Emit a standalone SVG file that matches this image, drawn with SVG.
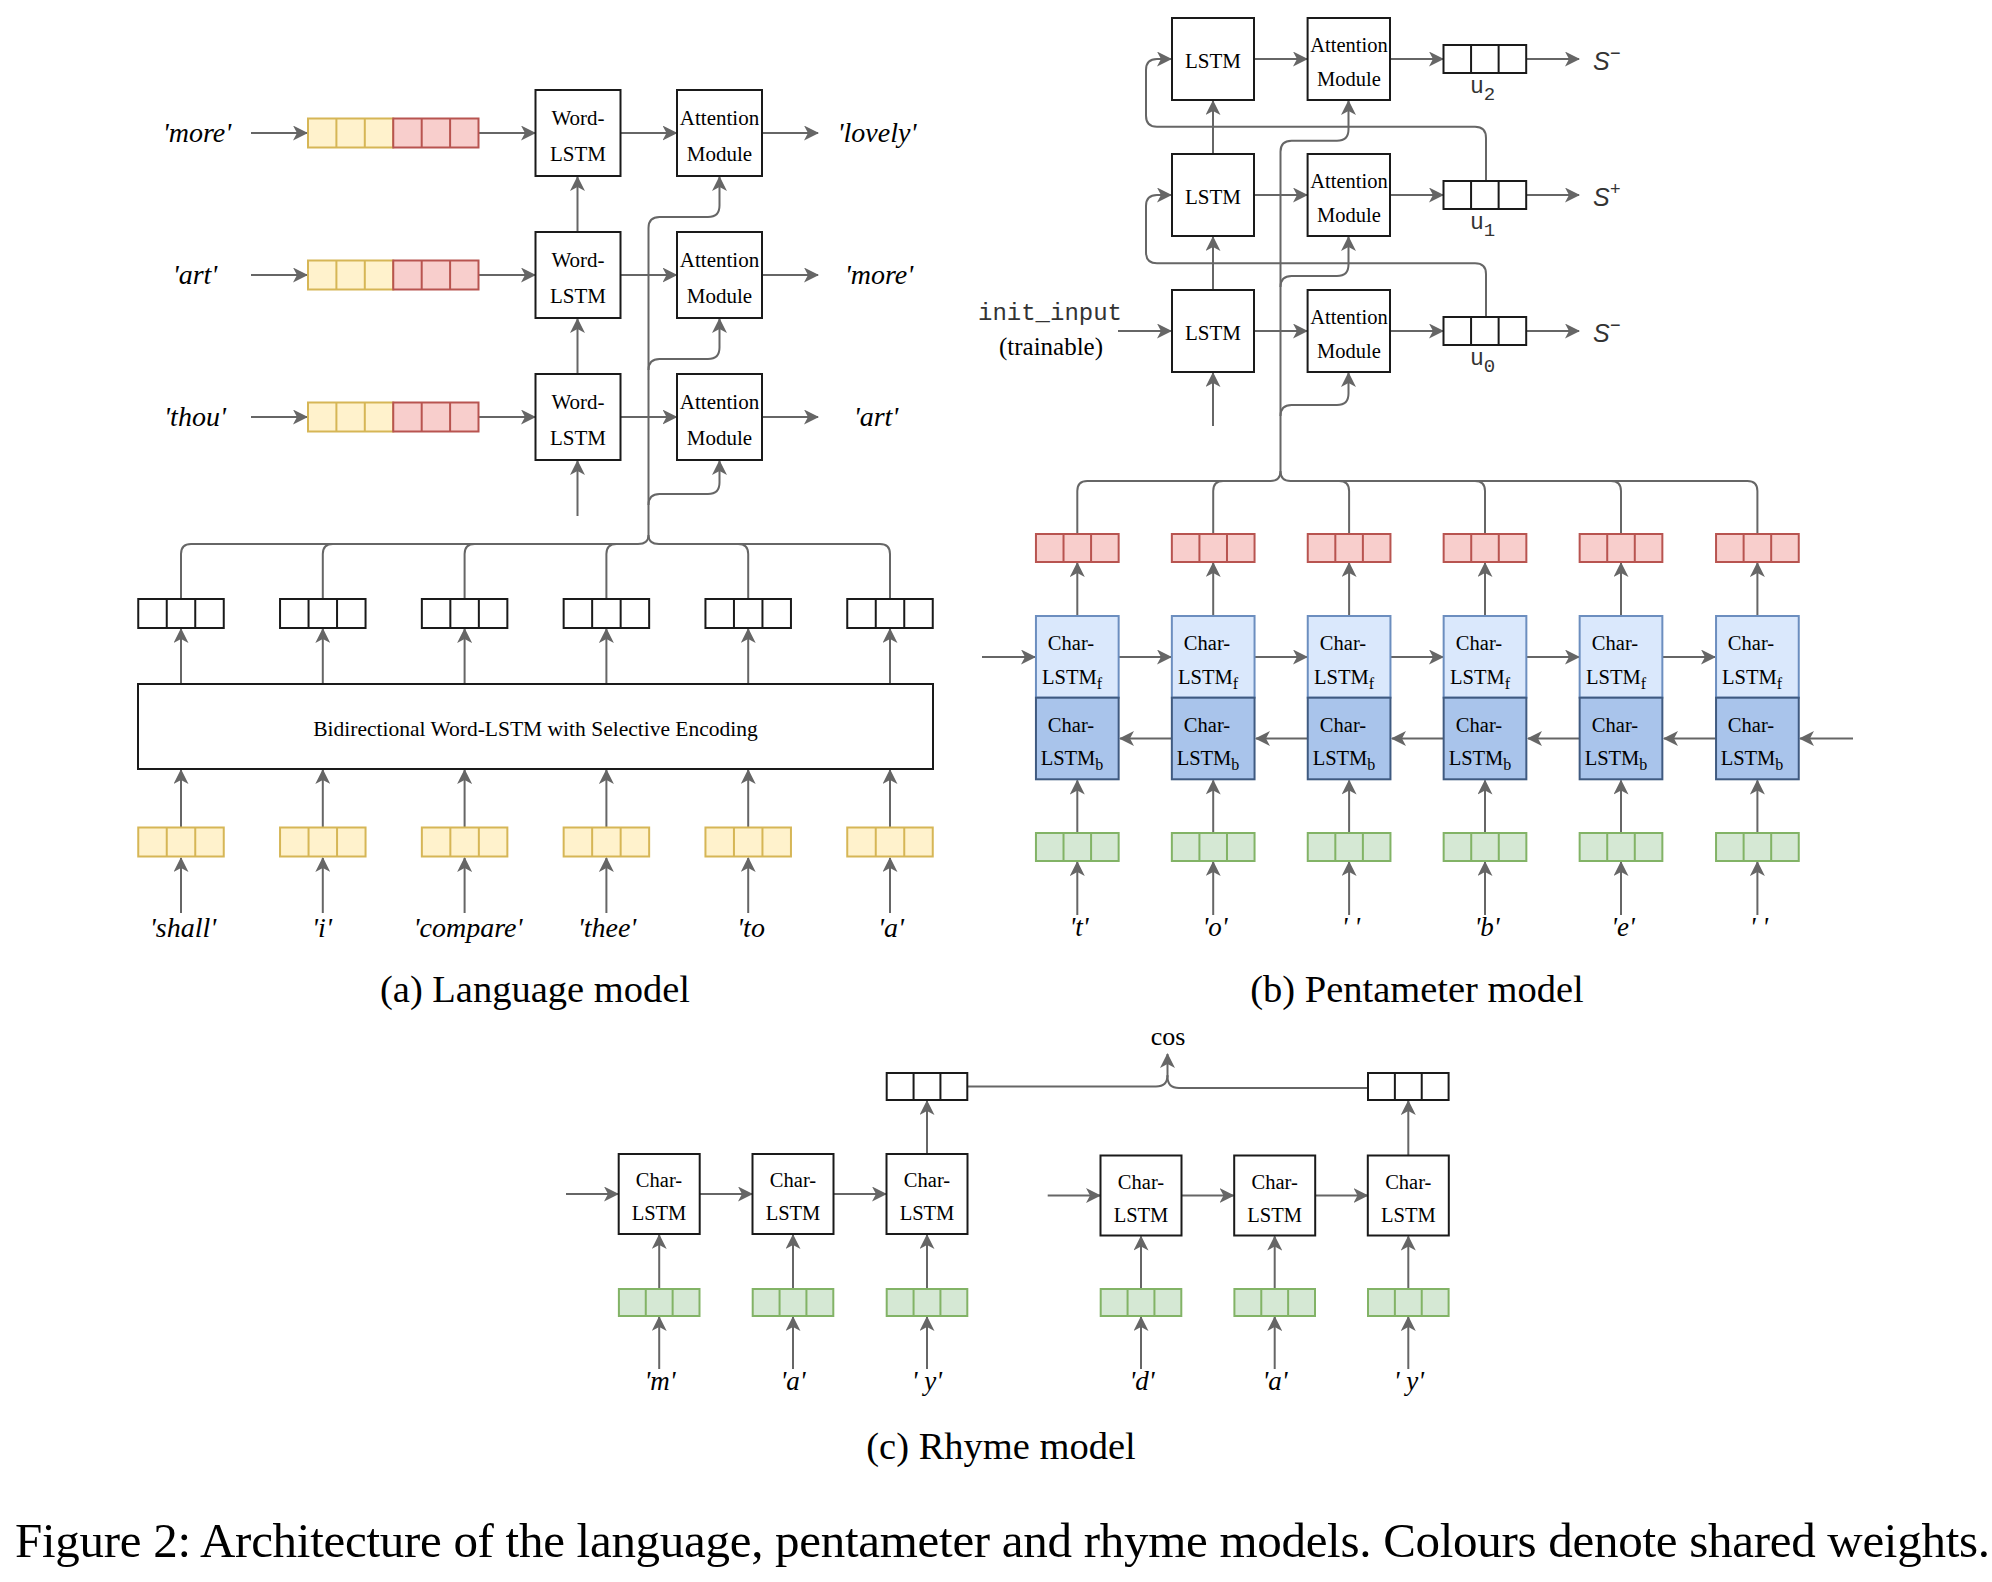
<svg xmlns="http://www.w3.org/2000/svg" xmlns:xlink="http://www.w3.org/1999/xlink" width="1992" height="1582" viewBox="0 0 1992 1582">
<defs>
<style>
.ln{stroke:#666;stroke-width:2;fill:none}
.ar{stroke:#666;stroke-width:2;fill:none;marker-end:url(#ah)}
.bx{fill:#fff;stroke:#1a1a1a;stroke-width:2}
.cl{stroke-width:2;fill:none}
.yel{fill:#fff2cc;stroke:#d6b656;stroke-width:2}
.red{fill:#f8cecc;stroke:#b85450;stroke-width:2}
.grn{fill:#d5e8d4;stroke:#82b366;stroke-width:2}
.blk{fill:#fff;stroke:#1a1a1a;stroke-width:2}
.bf{fill:#dae8fc;stroke:#6c8ebf;stroke-width:2}
.bb{fill:#a9c4eb;stroke:#3f5a80;stroke-width:2}
.t{font-family:"Liberation Serif","Times New Roman",serif;fill:#000;text-anchor:middle}
.s21{font-size:21px}
.s20{font-size:20.5px}
.sub{font-size:16px}
.lab{font-style:italic;font-size:28px}
.cap{font-size:38.5px}
.mono{font-family:"Liberation Mono","Courier New",monospace;fill:#333}
.sv{font-family:"Liberation Sans",Arial,sans-serif;font-style:italic;fill:#333}
</style>
<marker id="ah" markerUnits="userSpaceOnUse" markerWidth="15" markerHeight="15" viewBox="0 0 15 15" refX="14" refY="7.5" orient="auto">
<path d="M0,0 L15,7.5 L0,15 L4,7.5 Z" fill="#666"/>
</marker>
<g id="vA"><rect x="0" y="0" width="85.5" height="29"/><path d="M28.5,0V29M57,0V29"/></g>
<g id="vB"><rect x="0" y="0" width="82.7" height="28"/><path d="M27.57,0V28M55.13,0V28"/></g>
<g id="vC"><rect x="0" y="0" width="80.6" height="27"/><path d="M26.87,0V27M53.73,0V27"/></g>
</defs>
<rect width="1992" height="1582" fill="#fff"/>

<!-- ===================== connectors ===================== -->
<g id="connectors">
<!-- (a) rows -->
<path class="ar" d="M251,133H307"/><path class="ar" d="M251,275H307"/><path class="ar" d="M251,417H307"/>
<path class="ar" d="M478.5,133H535"/><path class="ar" d="M478.5,275H535"/><path class="ar" d="M478.5,417H535"/>
<path class="ar" d="M620.5,133H676.5"/><path class="ar" d="M620.5,275H676.5"/><path class="ar" d="M620.5,417H676.5"/>
<path class="ar" d="M762,133H818"/><path class="ar" d="M762,275H818"/><path class="ar" d="M762,417H818"/>
<path class="ar" d="M577.5,232V177"/><path class="ar" d="M577.5,374V319"/><path class="ar" d="M577.5,516V461"/>
<path class="ar" d="M648.5,535V228Q648.5,217 659.5,217H708Q719.5,217 719.5,205.5V177"/>
<path class="ar" d="M648.5,370Q648.5,359 659.5,359H708Q719.5,359 719.5,347.5V319"/>
<path class="ar" d="M648.5,505Q648.5,494 659.5,494H708Q719.5,494 719.5,482.5V461"/>
<!-- (a) bus -->
<path class="ln" d="M181,599V554Q181,544 191,544H638Q648.5,544 648.5,535"/>
<path class="ln" d="M890,599V554Q890,544 880,544H659Q648.5,544 648.5,535"/>
<path class="ln" d="M332.8,544Q322.8,544 322.8,554V599"/>
<path class="ln" d="M474.6,544Q464.6,544 464.6,554V599"/>
<path class="ln" d="M616.4,544Q606.4,544 606.4,554V599"/>
<path class="ln" d="M738.2,544Q748.2,544 748.2,554V599"/>
<!-- (a) bottom arrows -->
<path class="ar" d="M181,684V629"/><path class="ar" d="M322.8,684V629"/><path class="ar" d="M464.6,684V629"/><path class="ar" d="M606.4,684V629"/><path class="ar" d="M748.2,684V629"/><path class="ar" d="M890,684V629"/>
<path class="ar" d="M181,827V770"/><path class="ar" d="M322.8,827V770"/><path class="ar" d="M464.6,827V770"/><path class="ar" d="M606.4,827V770"/><path class="ar" d="M748.2,827V770"/><path class="ar" d="M890,827V770"/>
<path class="ar" d="M181,913V858"/><path class="ar" d="M322.8,913V858"/><path class="ar" d="M464.6,913V858"/><path class="ar" d="M606.4,913V858"/><path class="ar" d="M748.2,913V858"/><path class="ar" d="M890,913V858"/>

<!-- (b) top -->
<path class="ar" d="M1254,59H1307"/><path class="ar" d="M1254,195H1307"/><path class="ar" d="M1254,331H1307"/>
<path class="ar" d="M1390,59H1443"/><path class="ar" d="M1390,195H1443"/><path class="ar" d="M1390,331H1443"/>
<path class="ar" d="M1526,59H1579"/><path class="ar" d="M1526,195H1579"/><path class="ar" d="M1526,331H1579"/>
<path class="ar" d="M1118,331H1171"/>
<path class="ar" d="M1213,154V101"/><path class="ar" d="M1213,290V237"/><path class="ar" d="M1213,426V373"/>
<path class="ar" d="M1486,181V138Q1486,126.7 1475,126.7H1157Q1146,126.7 1146,115.7V70Q1146,59 1157,59H1171"/>
<path class="ar" d="M1486,317V274Q1486,263.3 1475,263.3H1157Q1146,263.3 1146,252.3V206Q1146,195 1157,195H1171"/>
<path class="ar" d="M1280.5,471V151.7Q1280.5,140.7 1291.5,140.7H1337Q1348.5,140.7 1348.5,129.2V101"/>
<path class="ar" d="M1280.5,287Q1280.5,276 1291.5,276H1337Q1348.5,276 1348.5,264.5V237"/>
<path class="ar" d="M1280.5,416Q1280.5,405 1291.5,405H1337Q1348.5,405 1348.5,393.5V373"/>
<!-- (b) bus -->
<path class="ln" d="M1077.3,534V491Q1077.3,481 1087.3,481H1270.5Q1280.5,481 1280.5,471"/>
<path class="ln" d="M1757.4,534V491Q1757.4,481 1747.4,481H1290.5Q1280.5,481 1280.5,471"/>
<path class="ln" d="M1223.2,481Q1213.2,481 1213.2,491V534"/>
<path class="ln" d="M1339.1,481Q1349.1,481 1349.1,491V534"/>
<path class="ln" d="M1475,481Q1485,481 1485,491V534"/>
<path class="ln" d="M1611,481Q1621,481 1621,491V534"/>
<!-- (b) char lstm -->
<path class="ar" d="M1077.3,616V563"/><path class="ar" d="M1213.2,616V563"/><path class="ar" d="M1349.1,616V563"/><path class="ar" d="M1485,616V563"/><path class="ar" d="M1621,616V563"/><path class="ar" d="M1757.4,616V563"/>
<path class="ar" d="M982,657H1035"/><path class="ar" d="M1118.7,657H1171"/><path class="ar" d="M1254.6,657H1307"/><path class="ar" d="M1390.5,657H1443"/><path class="ar" d="M1526.4,657H1579"/><path class="ar" d="M1662.4,657H1715"/>
<path class="ar" d="M1853,738.5H1800"/><path class="ar" d="M1716,738.5H1664"/><path class="ar" d="M1579.6,738.5H1528"/><path class="ar" d="M1443.6,738.5H1392"/><path class="ar" d="M1307.7,738.5H1256"/><path class="ar" d="M1171.8,738.5H1120"/>
<path class="ar" d="M1077.3,833V780.5"/><path class="ar" d="M1213.2,833V780.5"/><path class="ar" d="M1349.1,833V780.5"/><path class="ar" d="M1485,833V780.5"/><path class="ar" d="M1621,833V780.5"/><path class="ar" d="M1757.4,833V780.5"/>
<path class="ar" d="M1077.3,915V862"/><path class="ar" d="M1213.2,915V862"/><path class="ar" d="M1349.1,915V862"/><path class="ar" d="M1485,915V862"/><path class="ar" d="M1621,915V862"/><path class="ar" d="M1757.4,915V862"/>

<!-- (c) -->
<path class="ar" d="M566,1194H618"/><path class="ar" d="M699.7,1194H752"/><path class="ar" d="M833.3,1194H886"/>
<path class="ar" d="M1047.7,1195.5H1100"/><path class="ar" d="M1181.3,1195.5H1233.5"/><path class="ar" d="M1315,1195.5H1367.5"/>
<path class="ar" d="M927,1154V1101"/><path class="ar" d="M1408.3,1155.5V1101"/>
<path class="ln" d="M967.3,1086.5H1156Q1167.5,1086.5 1167.5,1075"/>
<path class="ln" d="M1368,1088H1179Q1167.5,1088 1167.5,1076.5"/>
<path class="ar" d="M1167.5,1077V1054"/>
<path class="ar" d="M659.2,1289V1235"/><path class="ar" d="M793,1289V1235"/><path class="ar" d="M927,1289V1235"/>
<path class="ar" d="M1141,1289V1236.5"/><path class="ar" d="M1274.7,1289V1236.5"/><path class="ar" d="M1408.3,1289V1236.5"/>
<path class="ar" d="M659.2,1369V1317"/><path class="ar" d="M793,1369V1317"/><path class="ar" d="M927,1369V1317"/>
<path class="ar" d="M1141,1369V1317"/><path class="ar" d="M1274.7,1369V1317"/><path class="ar" d="M1408.3,1369V1317"/>
</g>

<!-- ===================== (a) Language model ===================== -->
<g id="a-row1">
<text class="t lab" x="197" y="142">'more'</text>
<g id="a-emb1"><rect class="yel" x="308" y="118.5" width="85.25" height="29"/><path class="cl" stroke="#d6b656" d="M336.4,118.5V147.5M364.8,118.5V147.5"/><rect class="red" x="393.25" y="118.5" width="85.25" height="29"/><path class="cl" stroke="#b85450" d="M421.7,118.5V147.5M450.1,118.5V147.5"/></g>
<g id="a-wlstm1"><rect class="bx" x="535.5" y="90" width="85" height="86"/><text class="t s21" x="578" y="125">Word-</text><text class="t s21" x="578" y="161">LSTM</text></g>
<g id="a-att1"><rect class="bx" x="677" y="90" width="85" height="86"/><text class="t s21" x="719.5" y="125">Attention</text><text class="t s21" x="719.5" y="161">Module</text></g>
<text class="t lab" x="877" y="142">'lovely'</text>
</g>
<g id="a-row2">
<text class="t lab" x="195" y="284">'art'</text>
<g id="a-emb2"><rect class="yel" x="308" y="260.5" width="85.25" height="29"/><path class="cl" stroke="#d6b656" d="M336.4,260.5V289.5M364.8,260.5V289.5"/><rect class="red" x="393.25" y="260.5" width="85.25" height="29"/><path class="cl" stroke="#b85450" d="M421.7,260.5V289.5M450.1,260.5V289.5"/></g>
<g id="a-wlstm2"><rect class="bx" x="535.5" y="232" width="85" height="86"/><text class="t s21" x="578" y="267">Word-</text><text class="t s21" x="578" y="303">LSTM</text></g>
<g id="a-att2"><rect class="bx" x="677" y="232" width="85" height="86"/><text class="t s21" x="719.5" y="267">Attention</text><text class="t s21" x="719.5" y="303">Module</text></g>
<text class="t lab" x="879" y="284">'more'</text>
</g>
<g id="a-row3">
<text class="t lab" x="195" y="426">'thou'</text>
<g id="a-emb3"><rect class="yel" x="308" y="402.5" width="85.25" height="29"/><path class="cl" stroke="#d6b656" d="M336.4,402.5V431.5M364.8,402.5V431.5"/><rect class="red" x="393.25" y="402.5" width="85.25" height="29"/><path class="cl" stroke="#b85450" d="M421.7,402.5V431.5M450.1,402.5V431.5"/></g>
<g id="a-wlstm3"><rect class="bx" x="535.5" y="374" width="85" height="86"/><text class="t s21" x="578" y="409">Word-</text><text class="t s21" x="578" y="445">LSTM</text></g>
<g id="a-att3"><rect class="bx" x="677" y="374" width="85" height="86"/><text class="t s21" x="719.5" y="409">Attention</text><text class="t s21" x="719.5" y="445">Module</text></g>
<text class="t lab" x="876" y="426">'art'</text>
</g>
<g id="a-hidden">
<use xlink:href="#vA" href="#vA" class="blk" x="138.25" y="599"/>
<use xlink:href="#vA" href="#vA" class="blk" x="280.05" y="599"/>
<use xlink:href="#vA" href="#vA" class="blk" x="421.85" y="599"/>
<use xlink:href="#vA" href="#vA" class="blk" x="563.65" y="599"/>
<use xlink:href="#vA" href="#vA" class="blk" x="705.45" y="599"/>
<use xlink:href="#vA" href="#vA" class="blk" x="847.25" y="599"/>
</g>
<g id="a-bilstm"><rect class="bx" x="138" y="684" width="795" height="85"/><text class="t" style="font-size:21.5px" x="535.5" y="736">Bidirectional Word-LSTM with Selective Encoding</text></g>
<g id="a-wordemb">
<use xlink:href="#vA" href="#vA" class="yel" x="138.25" y="827.5"/>
<use xlink:href="#vA" href="#vA" class="yel" x="280.05" y="827.5"/>
<use xlink:href="#vA" href="#vA" class="yel" x="421.85" y="827.5"/>
<use xlink:href="#vA" href="#vA" class="yel" x="563.65" y="827.5"/>
<use xlink:href="#vA" href="#vA" class="yel" x="705.45" y="827.5"/>
<use xlink:href="#vA" href="#vA" class="yel" x="847.25" y="827.5"/>
</g>
<g id="a-words">
<text class="t lab" x="183" y="937">'shall'</text>
<text class="t lab" x="322" y="937">'i'</text>
<text class="t lab" x="468" y="937">'compare'</text>
<text class="t lab" x="607" y="937">'thee'</text>
<text class="t lab" x="751" y="937">'to</text>
<text class="t lab" x="891" y="937">'a'</text>
</g>
<text id="cap-a" class="t cap" x="535" y="1002">(a) Language model</text>

<!-- ===================== (b) Pentameter model ===================== -->
<g id="b-init"><text class="mono" style="font-size:24px;text-anchor:middle" x="1050" y="320">init_input</text><text class="t" style="font-size:25px" x="1051" y="355">(trainable)</text></g>
<g id="b-lstm2"><rect class="bx" x="1172" y="18" width="82" height="82"/><text class="t s21" x="1213" y="68">LSTM</text></g>
<g id="b-lstm1"><rect class="bx" x="1172" y="154" width="82" height="82"/><text class="t s21" x="1213" y="204">LSTM</text></g>
<g id="b-lstm0"><rect class="bx" x="1172" y="290" width="82" height="82"/><text class="t s21" x="1213" y="340">LSTM</text></g>
<g id="b-att2"><rect class="bx" x="1307.6" y="18" width="82.4" height="82"/><text class="t s20" x="1349" y="52">Attention</text><text class="t s20" x="1349" y="86">Module</text></g>
<g id="b-att1"><rect class="bx" x="1307.6" y="154" width="82.4" height="82"/><text class="t s20" x="1349" y="188">Attention</text><text class="t s20" x="1349" y="222">Module</text></g>
<g id="b-att0"><rect class="bx" x="1307.6" y="290" width="82.4" height="82"/><text class="t s20" x="1349" y="324">Attention</text><text class="t s20" x="1349" y="358">Module</text></g>
<g id="b-u2"><use xlink:href="#vB" href="#vB" class="blk" x="1443.5" y="45"/><text class="mono" style="font-size:23px" x="1470" y="93">u<tspan style="font-size:19px" dy="7">2</tspan></text></g>
<g id="b-u1"><use xlink:href="#vB" href="#vB" class="blk" x="1443.5" y="181"/><text class="mono" style="font-size:23px" x="1470" y="229">u<tspan style="font-size:19px" dy="7">1</tspan></text></g>
<g id="b-u0"><use xlink:href="#vB" href="#vB" class="blk" x="1443.5" y="317"/><text class="mono" style="font-size:23px" x="1470" y="365">u<tspan style="font-size:19px" dy="7">0</tspan></text></g>
<g id="b-s2"><text class="sv" style="font-size:25px" x="1593" y="70">S<tspan style="font-size:18px" dy="-11">−</tspan></text></g>
<g id="b-s1"><text class="sv" style="font-size:25px" x="1593" y="206">S<tspan style="font-size:18px" dy="-11">+</tspan></text></g>
<g id="b-s0"><text class="sv" style="font-size:25px" x="1593" y="342">S<tspan style="font-size:18px" dy="-11">−</tspan></text></g>

<g id="b-red">
<use xlink:href="#vB" href="#vB" class="red" x="1035.95" y="534"/>
<use xlink:href="#vB" href="#vB" class="red" x="1171.85" y="534"/>
<use xlink:href="#vB" href="#vB" class="red" x="1307.75" y="534"/>
<use xlink:href="#vB" href="#vB" class="red" x="1443.65" y="534"/>
<use xlink:href="#vB" href="#vB" class="red" x="1579.65" y="534"/>
<use xlink:href="#vB" href="#vB" class="red" x="1716.05" y="534"/>
</g>
<g id="b-char1"><rect class="bf" x="1035.95" y="616" width="82.7" height="81.7"/><rect class="bb" x="1035.95" y="697.7" width="82.7" height="81.6"/><text class="t s20" x="1071" y="650">Char-</text><text class="t s20" x="1072" y="684">LSTM<tspan class="sub" dy="5">f</tspan></text><text class="t s20" x="1071" y="732">Char-</text><text class="t s20" x="1072" y="765">LSTM<tspan class="sub" dy="5">b</tspan></text></g>
<g id="b-char2"><rect class="bf" x="1171.85" y="616" width="82.7" height="81.7"/><rect class="bb" x="1171.85" y="697.7" width="82.7" height="81.6"/><text class="t s20" x="1207" y="650">Char-</text><text class="t s20" x="1208" y="684">LSTM<tspan class="sub" dy="5">f</tspan></text><text class="t s20" x="1207" y="732">Char-</text><text class="t s20" x="1208" y="765">LSTM<tspan class="sub" dy="5">b</tspan></text></g>
<g id="b-char3"><rect class="bf" x="1307.75" y="616" width="82.7" height="81.7"/><rect class="bb" x="1307.75" y="697.7" width="82.7" height="81.6"/><text class="t s20" x="1343" y="650">Char-</text><text class="t s20" x="1344" y="684">LSTM<tspan class="sub" dy="5">f</tspan></text><text class="t s20" x="1343" y="732">Char-</text><text class="t s20" x="1344" y="765">LSTM<tspan class="sub" dy="5">b</tspan></text></g>
<g id="b-char4"><rect class="bf" x="1443.65" y="616" width="82.7" height="81.7"/><rect class="bb" x="1443.65" y="697.7" width="82.7" height="81.6"/><text class="t s20" x="1479" y="650">Char-</text><text class="t s20" x="1480" y="684">LSTM<tspan class="sub" dy="5">f</tspan></text><text class="t s20" x="1479" y="732">Char-</text><text class="t s20" x="1480" y="765">LSTM<tspan class="sub" dy="5">b</tspan></text></g>
<g id="b-char5"><rect class="bf" x="1579.65" y="616" width="82.7" height="81.7"/><rect class="bb" x="1579.65" y="697.7" width="82.7" height="81.6"/><text class="t s20" x="1615" y="650">Char-</text><text class="t s20" x="1616" y="684">LSTM<tspan class="sub" dy="5">f</tspan></text><text class="t s20" x="1615" y="732">Char-</text><text class="t s20" x="1616" y="765">LSTM<tspan class="sub" dy="5">b</tspan></text></g>
<g id="b-char6"><rect class="bf" x="1716.05" y="616" width="82.7" height="81.7"/><rect class="bb" x="1716.05" y="697.7" width="82.7" height="81.6"/><text class="t s20" x="1751" y="650">Char-</text><text class="t s20" x="1752" y="684">LSTM<tspan class="sub" dy="5">f</tspan></text><text class="t s20" x="1751" y="732">Char-</text><text class="t s20" x="1752" y="765">LSTM<tspan class="sub" dy="5">b</tspan></text></g>
<g id="b-green">
<use xlink:href="#vB" href="#vB" class="grn" x="1035.95" y="833"/>
<use xlink:href="#vB" href="#vB" class="grn" x="1171.85" y="833"/>
<use xlink:href="#vB" href="#vB" class="grn" x="1307.75" y="833"/>
<use xlink:href="#vB" href="#vB" class="grn" x="1443.65" y="833"/>
<use xlink:href="#vB" href="#vB" class="grn" x="1579.65" y="833"/>
<use xlink:href="#vB" href="#vB" class="grn" x="1716.05" y="833"/>
</g>
<g id="b-chars" xml:space="preserve">
<text class="t lab" style="font-size:27px" x="1079" y="936">'t'</text>
<text class="t lab" style="font-size:27px" x="1215" y="936">'o'</text>
<text class="t lab" style="font-size:27px" x="1351" y="936">' '</text>
<text class="t lab" style="font-size:27px" x="1487" y="936">'b'</text>
<text class="t lab" style="font-size:27px" x="1623" y="936">'e'</text>
<text class="t lab" style="font-size:27px" x="1759" y="936">' '</text>
</g>
<text id="cap-b" class="t cap" x="1417" y="1002">(b) Pentameter model</text>

<!-- ===================== (c) Rhyme model ===================== -->
<text id="c-cos" class="t" style="font-size:26px" x="1168" y="1045">cos</text>
<g id="c-outL"><use xlink:href="#vC" href="#vC" class="blk" x="886.7" y="1073"/></g>
<g id="c-outR"><use xlink:href="#vC" href="#vC" class="blk" x="1368" y="1073"/></g>
<g id="c-L1"><rect class="bx" x="618.7" y="1154" width="81" height="80"/><text class="t s20" x="659" y="1187">Char-</text><text class="t s20" x="659" y="1220">LSTM</text></g>
<g id="c-L2"><rect class="bx" x="752.5" y="1154" width="81" height="80"/><text class="t s20" x="793" y="1187">Char-</text><text class="t s20" x="793" y="1220">LSTM</text></g>
<g id="c-L3"><rect class="bx" x="886.5" y="1154" width="81" height="80"/><text class="t s20" x="927" y="1187">Char-</text><text class="t s20" x="927" y="1220">LSTM</text></g>
<g id="c-R1"><rect class="bx" x="1100.5" y="1155.5" width="81" height="80"/><text class="t s20" x="1141" y="1188.5">Char-</text><text class="t s20" x="1141" y="1221.5">LSTM</text></g>
<g id="c-R2"><rect class="bx" x="1234.2" y="1155.5" width="81" height="80"/><text class="t s20" x="1274.7" y="1188.5">Char-</text><text class="t s20" x="1274.7" y="1221.5">LSTM</text></g>
<g id="c-R3"><rect class="bx" x="1367.8" y="1155.5" width="81" height="80"/><text class="t s20" x="1408.3" y="1188.5">Char-</text><text class="t s20" x="1408.3" y="1221.5">LSTM</text></g>
<g id="c-green">
<use xlink:href="#vC" href="#vC" class="grn" x="618.9" y="1289"/>
<use xlink:href="#vC" href="#vC" class="grn" x="752.7" y="1289"/>
<use xlink:href="#vC" href="#vC" class="grn" x="886.7" y="1289"/>
<use xlink:href="#vC" href="#vC" class="grn" x="1100.7" y="1289"/>
<use xlink:href="#vC" href="#vC" class="grn" x="1234.4" y="1289"/>
<use xlink:href="#vC" href="#vC" class="grn" x="1368" y="1289"/>
</g>
<g id="c-chars" xml:space="preserve">
<text class="t lab" style="font-size:27px" x="660" y="1390">'m'</text>
<text class="t lab" style="font-size:27px" x="793" y="1390">'a'</text>
<text class="t lab" style="font-size:27px" x="927" y="1390">' y'</text>
<text class="t lab" style="font-size:27px" x="1142" y="1390">'d'</text>
<text class="t lab" style="font-size:27px" x="1275" y="1390">'a'</text>
<text class="t lab" style="font-size:27px" x="1409" y="1390">' y'</text>
</g>
<text id="cap-c" class="t cap" x="1001" y="1459">(c) Rhyme model</text>

<text id="figcap" style="font-family:'Liberation Serif','Times New Roman',serif;font-size:49px;fill:#000" x="15" y="1557" textLength="1975" lengthAdjust="spacing">Figure 2: Architecture of the language, pentameter and rhyme models. Colours denote shared weights.</text>
</svg>
